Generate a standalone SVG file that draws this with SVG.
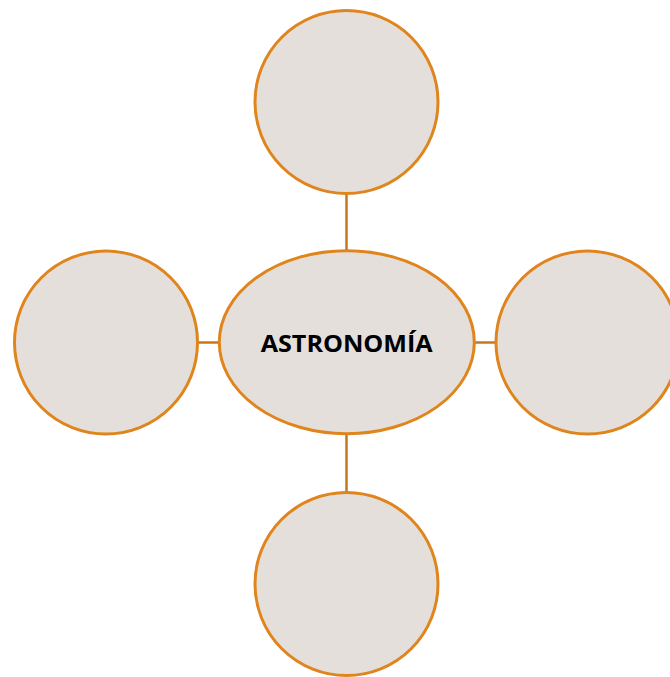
<svg xmlns="http://www.w3.org/2000/svg" width="670" height="677" viewBox="0 0 670 677">
  <style>
    .node { fill: #e5dfdc; stroke: #e0841c; stroke-width: 3; }
    .conn { stroke: #c8761e; stroke-width: 2.5; fill: none; }
    .label { font-family: "Open Sans", "Liberation Sans", sans-serif; font-weight: bold; font-size: 24px; fill: #000; }
  </style>
  <rect width="670" height="677" fill="#ffffff"/>
  <g id="connectors">
    <line class="conn" x1="346.5" y1="194" x2="346.5" y2="251"/>
    <line class="conn" x1="346.5" y1="434" x2="346.5" y2="492"/>
    <line class="conn" x1="198" y1="342.5" x2="220" y2="342.5"/>
    <line class="conn" x1="474" y1="342.5" x2="496" y2="342.5"/>
  </g>
  <g id="node-top">
    <circle class="node" cx="346.5" cy="102" r="91.5"/>
  </g>
  <g id="node-left">
    <circle class="node" cx="106" cy="342.5" r="91.5"/>
  </g>
  <g id="node-right">
    <circle class="node" cx="587.5" cy="342.5" r="91.5"/>
  </g>
  <g id="node-bottom">
    <circle class="node" cx="346.5" cy="584" r="91.5"/>
  </g>
  <g id="node-center">
    <ellipse class="node" cx="346.8" cy="342.2" rx="127.5" ry="91.5"/>
    <text class="label" x="346.7" y="352" text-anchor="middle" textLength="172" lengthAdjust="spacingAndGlyphs">ASTRONOMÍA</text>
  </g>
</svg>
